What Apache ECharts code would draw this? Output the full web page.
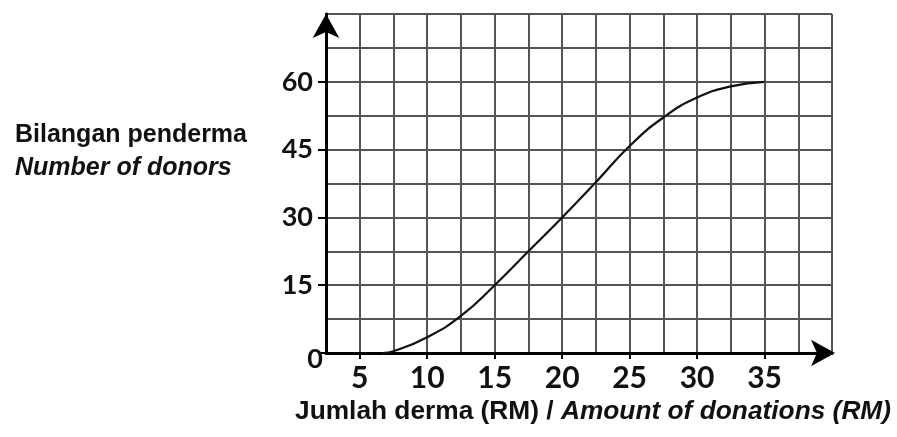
<!DOCTYPE html>
<html>
<head>
<meta charset="utf-8">
<style>html,body{margin:0;padding:0;background:#fff;}#chart{width:897px;height:437px;}</style>
<script src="https://cdn.jsdelivr.net/npm/echarts@6/dist/echarts.min.js"></script>
</head>
<body>
<div id="chart"></div>
<script>
// Data (ogive curve)
const donationAmounts = [6.7, 7.5, 10, 12.5, 15, 17.5, 20, 22.5, 25, 27.5, 30, 32.5, 35];
const donorCounts     = [0, 0.4, 3.5, 8.2, 15, 22.5, 30, 37.8, 45.8, 52.1, 56.5, 59, 60];
const xTickLabels = [5, 10, 15, 20, 25, 30, 35];
const yTickLabels = [0, 15, 30, 45, 60];
const yTitleLines = ['Bilangan penderma', 'Number of donors'];
const xTitleParts = ['Jumlah derma (RM) / ', 'Amount of donations (RM)'];

const chart = echarts.init(document.getElementById('chart'), null, {renderer: 'canvas'});
const gridColor = '#555';
const digitFont = 'Lato';
const titleFont = '"Liberation Sans", Arial, sans-serif';

chart.setOption({
  animation: false,
  backgroundColor: '#fff',
  title: [
    {
      left: 10, top: 114,
      text: '{a|' + yTitleLines[0] + '}\n{b|' + yTitleLines[1] + '}',
      textStyle: {
        rich: {
          a: {fontFamily: titleFont, fontWeight: 'bold', fontSize: 25, color: '#111', lineHeight: 33},
          b: {fontFamily: titleFont, fontWeight: 'bold', fontStyle: 'italic', fontSize: 25, color: '#111', lineHeight: 33}
        }
      }
    },
    {
      left: 290, top: 394,
      text: '{a|' + xTitleParts[0] + '}{b|' + xTitleParts[1] + '}',
      textStyle: {
        rich: {
          a: {fontFamily: titleFont, fontWeight: 'bold', fontSize: 26.3, color: '#111'},
          b: {fontFamily: titleFont, fontWeight: 'bold', fontStyle: 'italic', fontSize: 26.3, color: '#111'}
        }
      }
    }
  ],
  grid: {left: 326, right: 65, top: 14, bottom: 84, containLabel: false},
  xAxis: [
    {
      type: 'value', min: 2.5, max: 40, interval: 2.5, position: 'bottom',
      axisLine: {show: false}, axisTick: {show: false}, axisLabel: {show: false},
      splitLine: {show: true, lineStyle: {color: gridColor, width: 2}}
    },
    {
      type: 'value', min: 2.5, max: 40, position: 'bottom',
      axisLine: {show: true, onZero: false, symbol: ['none', 'arrow'], symbolSize: [20, 24], symbolOffset: [0, 3],
        lineStyle: {color: '#000', width: 3}},
      axisTick: {show: true, customValues: xTickLabels, length: 6, inside: false, lineStyle: {color: '#000', width: 2}},
      axisLabel: {show: true, customValues: xTickLabels, margin: 10, fontFamily: digitFont, fontWeight: 'bold', fontSize: 30, color: '#111'},
      splitLine: {show: false}
    }
  ],
  yAxis: [
    {
      type: 'value', min: 0, max: 75, interval: 7.5, position: 'left',
      axisLine: {show: false}, axisTick: {show: false}, axisLabel: {show: false},
      splitLine: {show: true, lineStyle: {color: gridColor, width: 2}}
    },
    {
      type: 'value', min: 0, max: 75, position: 'left',
      axisLine: {show: true, onZero: false, symbol: ['none', 'arrow'], symbolSize: [20, 24], symbolOffset: [0, 0],
        lineStyle: {color: '#000', width: 3}},
      axisTick: {show: true, customValues: yTickLabels, length: 8, lineStyle: {color: '#000', width: 2}},
      axisLabel: {
        show: true, customValues: yTickLabels, margin: 3,
        formatter: function (v) { return v === 0 ? '{z|0}' : '{n|' + v + '}'; },
        rich: {
          n: {fontFamily: digitFont, fontWeight: 'bold', fontSize: 27, color: '#111', padding: [0, 10, 0, 0]},
          z: {fontFamily: digitFont, fontWeight: 'bold', fontSize: 27, color: '#111', padding: [12, 0, 0, 0]}
        }
      },
      splitLine: {show: false}
    }
  ],
  series: [
    {
      type: 'line', xAxisIndex: 0, yAxisIndex: 0,
      data: donationAmounts.map((x, i) => [x, donorCounts[i]]),
      smooth: 0.5, showSymbol: false, symbol: 'none',
      lineStyle: {color: '#111', width: 2.2}, z: 5
    }
  ]
});
</script>
</body>
</html>
